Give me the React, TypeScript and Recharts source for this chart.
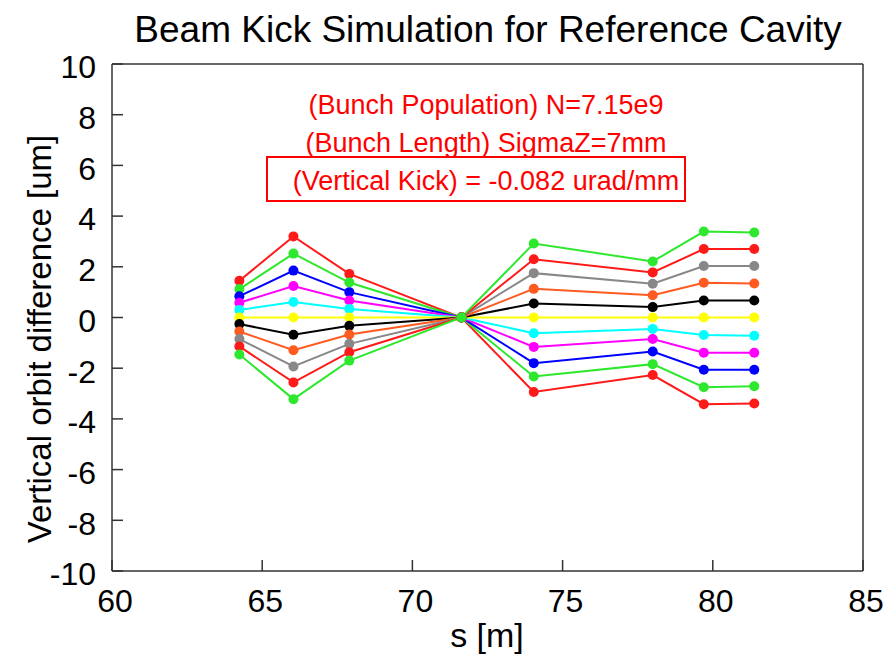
import React from 'react';
import { LineChart, Line, XAxis, YAxis } from 'recharts';

// Longitudinal positions of the BPMs along the beam line [m]
const sPositions = [64.24, 66.04, 67.9, 71.63, 74.04, 78.0, 79.7, 81.38];

const xTicks = [60, 65, 70, 75, 80, 85];
const yTicks = [-10, -8, -6, -4, -2, 0, 2, 4, 6, 8, 10];

// Vertical orbit difference [um] for each offset case, one value per BPM
const redUpper = [1.45, 3.2, 1.72, 0, -2.94, -2.27, -3.42, -3.39];
const greenUpper = [1.12, 2.52, 1.38, 0, -2.33, -1.84, -2.75, -2.71];
const blueOrbit = [0.84, 1.85, 1.0, 0, -1.8, -1.34, -2.06, -2.06];
const magentaOrbit = [0.58, 1.24, 0.67, 0, -1.16, -0.85, -1.39, -1.39];
const cyanOrbit = [0.3, 0.61, 0.34, 0, -0.62, -0.45, -0.69, -0.72];
const yellowOrbit = [0, 0, 0, 0, 0, 0, 0, 0];
const blackOrbit = [-0.26, -0.68, -0.33, 0, 0.55, 0.41, 0.67, 0.67];
const orangeOrbit = [-0.55, -1.29, -0.67, 0, 1.13, 0.88, 1.37, 1.34];
const grayOrbit = [-0.85, -1.93, -1.04, 0, 1.75, 1.33, 2.03, 2.03];
const redLower = [-1.14, -2.56, -1.37, 0, 2.3, 1.78, 2.7, 2.7];
const greenLower = [-1.46, -3.22, -1.7, 0, 2.92, 2.21, 3.39, 3.35];

const titleText = 'Beam Kick Simulation for Reference Cavity';
const yAxisTitle = 'Vertical orbit difference [um]';
const xAxisTitle = 's [m]';
const noteLines = [
  '(Bunch Population) N=7.15e9',
  '(Bunch Length) SigmaZ=7mm',
  '(Vertical Kick) = -0.082 urad/mm',
];

const seriesList = [
  { key: 'redUpper', values: redUpper, color: '#ff1a1a' },
  { key: 'greenUpper', values: greenUpper, color: '#2ee82e' },
  { key: 'blueOrbit', values: blueOrbit, color: '#0000ff' },
  { key: 'magentaOrbit', values: magentaOrbit, color: '#ff00ff' },
  { key: 'cyanOrbit', values: cyanOrbit, color: '#00ffff' },
  { key: 'yellowOrbit', values: yellowOrbit, color: '#ffff00' },
  { key: 'blackOrbit', values: blackOrbit, color: '#000000' },
  { key: 'orangeOrbit', values: orangeOrbit, color: '#ff5a1f' },
  { key: 'grayOrbit', values: grayOrbit, color: '#888888' },
  { key: 'redLower', values: redLower, color: '#ff1a1a' },
  { key: 'greenLower', values: greenLower, color: '#2ee82e' },
];

const rows = sPositions.map((s, i) => {
  const row: Record<string, number> = { s };
  seriesList.forEach((sr) => {
    row[sr.key] = sr.values[i];
  });
  return row;
});

const FONT = '"Liberation Sans", Arial, Helvetica, sans-serif';
const AXIS_COLOR = '#333333';
const tickFont = { fontSize: 32, fill: '#000', fontFamily: FONT };

export default function App() {
  return (
    <div style={{ position: 'absolute', left: 0, top: 0, width: 888, height: 658, background: '#fff' }}>
      <LineChart
        width={888}
        height={658}
        data={rows}
        margin={{ top: 63, right: 24, bottom: 27, left: 12 }}
      >
        <XAxis
          dataKey="s"
          type="number"
          domain={[60, 85]}
          ticks={xTicks}
          allowDataOverflow
          height={60}
          tickSize={-11}
          tickMargin={29}
          stroke={AXIS_COLOR}
          strokeWidth={1.5}
          tick={{ ...tickFont, dx: 3 }}
        />
        <XAxis
          xAxisId="top"
          orientation="top"
          dataKey="s"
          type="number"
          domain={[60, 85]}
          ticks={xTicks}
          allowDataOverflow
          height={1}
          tickSize={-11}
          tick={false}
          stroke={AXIS_COLOR}
          strokeWidth={1.5}
        />
        <YAxis
          type="number"
          domain={[-10, 10]}
          ticks={yTicks}
          allowDataOverflow
          width={100}
          tickSize={-11}
          tickMargin={27}
          stroke={AXIS_COLOR}
          strokeWidth={1.5}
          tick={{ ...tickFont, dy: 3 }}
        />
        <YAxis
          yAxisId="right"
          orientation="right"
          type="number"
          domain={[-10, 10]}
          ticks={yTicks}
          allowDataOverflow
          width={1}
          tickSize={-11}
          tick={false}
          stroke={AXIS_COLOR}
          strokeWidth={1.5}
        />
        {seriesList.map((sr) => (
          <Line
            key={sr.key}
            dataKey={sr.key}
            type="linear"
            stroke={sr.color}
            strokeWidth={2}
            dot={{ r: 5, fill: sr.color, stroke: 'none' }}
            activeDot={false}
            isAnimationActive={false}
          />
        ))}
      </LineChart>
      <svg
        width={888}
        height={658}
        style={{ position: 'absolute', left: 0, top: 0, pointerEvents: 'none' }}
        fontFamily={FONT}
      >
        <text x={488} y={42} textAnchor="middle" fontSize={37} fill="#000">
          {titleText}
        </text>
        <text
          x={0}
          y={0}
          transform="translate(51 339) rotate(-90)"
          textAnchor="middle"
          fontSize={33}
          fill="#000"
        >
          {yAxisTitle}
        </text>
        <text x={487} y={647} textAnchor="middle" fontSize={34} fill="#000">
          {xAxisTitle}
        </text>
        <g fill="#ff0000" fontSize={27} textAnchor="middle">
          <text x={486} y={114}>{noteLines[0]}</text>
          <text x={486} y={152}>{noteLines[1]}</text>
          <text x={486} y={190}>{noteLines[2]}</text>
        </g>
        <rect x={267} y={157} width={418} height={44} fill="none" stroke="#ff0000" strokeWidth={2} />
      </svg>
    </div>
  );
}
